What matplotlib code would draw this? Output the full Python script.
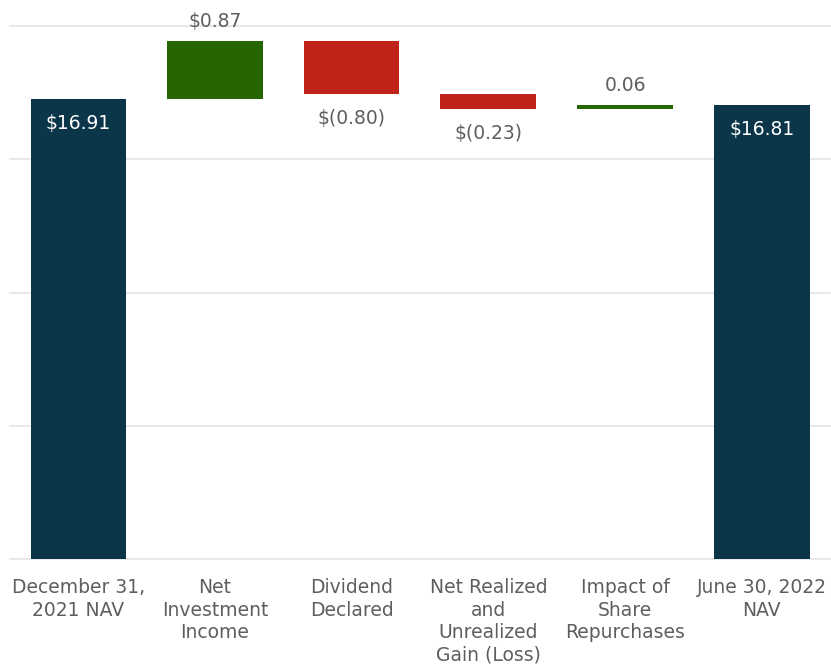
import matplotlib.pyplot as plt

categories = ['December 31,\n2021 NAV', 'Net\nInvestment\nIncome', 'Dividend\nDeclared',
              'Net Realized\nand\nUnrealized\nGain (Loss)', 'Impact of\nShare\nRepurchases',
              'June 30, 2022\nNAV']
start_nav = 16.91
changes = [0.87, -0.80, -0.23, 0.06]
end_nav = 16.81
labels = ['$16.91', '$0.87', '$(0.80)', '$(0.23)', '0.06', '$16.81']

navy = '#0b3548'
green = '#256600'
red = '#c0231a'
gray = '#5e5e5e'

fig = plt.figure(figsize=(8.31, 6.66), dpi=100)
ax = fig.add_axes([10 / 831, 107 / 666, 820 / 831, 533 / 666])

# bottoms and heights of the waterfall bars
bottoms, heights, colors = [0], [start_nav], [navy]
level = start_nav
for c in changes:
    bottoms.append(level if c > 0 else level + c)
    heights.append(abs(c))
    colors.append(green if c > 0 else red)
    level += c
bottoms.append(0)
heights.append(end_nav)
colors.append(navy)

x = range(len(categories))
ax.bar(x, heights, bottom=bottoms, width=0.7, color=colors, zorder=2)

for i in x:
    top = bottoms[i] + heights[i]
    if i in (0, len(categories) - 1):
        ax.annotate(labels[i], (i, top), xytext=(0, -15), textcoords='offset pixels',
                    ha='center', va='top', color='white', fontsize=13.5)
    elif changes[i - 1] > 0:
        ax.annotate(labels[i], (i, top), xytext=(0, 10), textcoords='offset pixels',
                    ha='center', va='bottom', color=gray, fontsize=13.5)
    else:
        ax.annotate(labels[i], (i, bottoms[i]), xytext=(0, -15), textcoords='offset pixels',
                    ha='center', va='top', color=gray, fontsize=13.5)

ax.set_xlim(-0.5, 5.5)
ax.set_ylim(10, 18)
ax.set_yticks([10, 12, 14, 16, 18])
ax.set_yticklabels([])
ax.set_xticks(list(x))
ax.set_xticklabels(categories, fontsize=13.5, color=gray, linespacing=1.22)
ax.tick_params(axis='both', length=0)
ax.tick_params(axis='x', pad=14)
ax.grid(axis='y', color='#e6e6e6', linewidth=1.3, zorder=0)
for gl in ax.get_ygridlines():
    gl.set_clip_on(False)
for s in ax.spines.values():
    s.set_visible(False)

fig.savefig('out.png', dpi=100)
